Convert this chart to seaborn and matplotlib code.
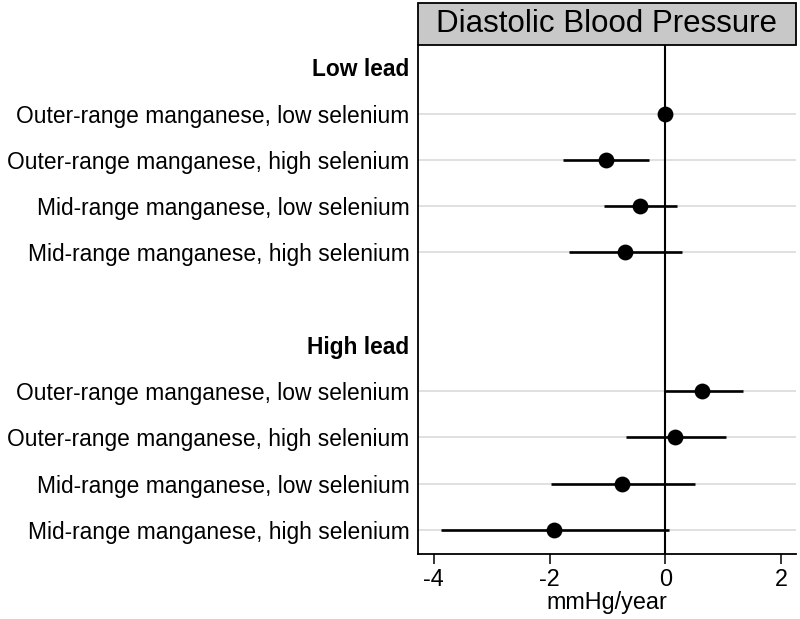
import numpy as np
import pandas as pd
import matplotlib
matplotlib.use("Agg")
import matplotlib.pyplot as plt
from matplotlib.patches import Rectangle
import seaborn as sns

# du lieu doc tu hinh
groups = ["Low lead", "High lead"]
row_labels = ["Outer-range manganese, low selenium",
              "Outer-range manganese, high selenium",
              "Mid-range manganese, low selenium",
              "Mid-range manganese, high selenium"]

est_low = [0.0, -1.03, -0.44, -0.69]
lo_low = [0.0, -1.76, -1.06, -1.66]
hi_low = [0.0, -0.28, 0.20, 0.29]

est_high = [0.63, 0.17, -0.75, -1.92]
lo_high = [-0.03, -0.67, -1.97, -3.87]
hi_high = [1.34, 1.05, 0.51, 0.06]

x_ticks = [-4, -2, 0, 2]
title = "Diastolic Blood Pressure"
x_label = "mmHg/year"

sns.set_theme(style="white")
plt.rcParams['font.family'] = ['Liberation Sans', 'DejaVu Sans']
plt.rcParams['text.color'] = 'black'
plt.rcParams['xtick.color'] = 'black'
plt.rcParams['ytick.color'] = 'black'
plt.rcParams['axes.labelcolor'] = 'black'

# bang du lieu: header, 4 dong, dong trong, header, 4 dong
rows = []
pos = 0
for g, est, lo, hi in [(groups[0], est_low, lo_low, hi_low),
                       (groups[1], est_high, lo_high, hi_high)]:
    rows.append(dict(pos=pos, label=g, header=True, est=np.nan, lo=np.nan, hi=np.nan))
    pos += 1
    for lab, e, l, h in zip(row_labels, est, lo, hi):
        rows.append(dict(pos=pos, label=lab, header=False, est=e, lo=l, hi=h))
        pos += 1
    pos += 1  # dong trong giua hai nhom
df = pd.DataFrame(rows)
data = df[~df.header]

fs = 16.4
fig = plt.figure(figsize=(8, 6.19), dpi=100)
ax = fig.add_axes([0.522, 0.105, 0.473, 0.822])

# luoi ngang chi o cac dong co du lieu
for p in data.pos:
    ax.axhline(p, color="#e0e0e0", lw=1.4, zorder=0)
ax.axvline(0, color="black", lw=1.5, zorder=1)

ax.hlines(data.pos, data.lo, data.hi, color="black", lw=1.9, zorder=2)
sns.scatterplot(data=data, x="est", y="pos", ax=ax, color="black", s=130,
                edgecolor="black", linewidth=0, zorder=3, legend=False)

ax.set_ylim(df.pos.max() + 0.52, -0.48)
ax.set_xlim(-4.28, 2.26)
ax.set_xticks(x_ticks)
ax.set_xticklabels([str(t) for t in x_ticks], fontsize=16.8)
ax.set_yticks(df.pos)
ax.set_yticklabels(df.label, fontsize=fs)
for t, h in zip(ax.get_yticklabels(), df.header):
    if h:
        t.set_fontweight("bold")
ax.tick_params(axis="y", length=0, pad=6)
ax.tick_params(axis="x", length=7, width=1.1, color="black", direction="out", pad=3,
               bottom=True)
ax.set_xlabel(x_label, fontsize=16.8, labelpad=0)
ax.set_ylabel("")

for s in ["top", "right"]:
    ax.spines[s].set_visible(False)
for s in ["left", "bottom"]:
    ax.spines[s].set_color("black")
    ax.spines[s].set_linewidth(1.3)

# hop tieu de mau xam
ax.add_patch(Rectangle((0, 1.0), 1, 0.0825, transform=ax.transAxes,
                       facecolor="#c8c8c8", edgecolor="black", lw=1.3, clip_on=False))
ax.text(0.5, 1.041, title, transform=ax.transAxes, ha="center", va="center",
        fontsize=22.5)

fig.savefig("out.png", dpi=100)
